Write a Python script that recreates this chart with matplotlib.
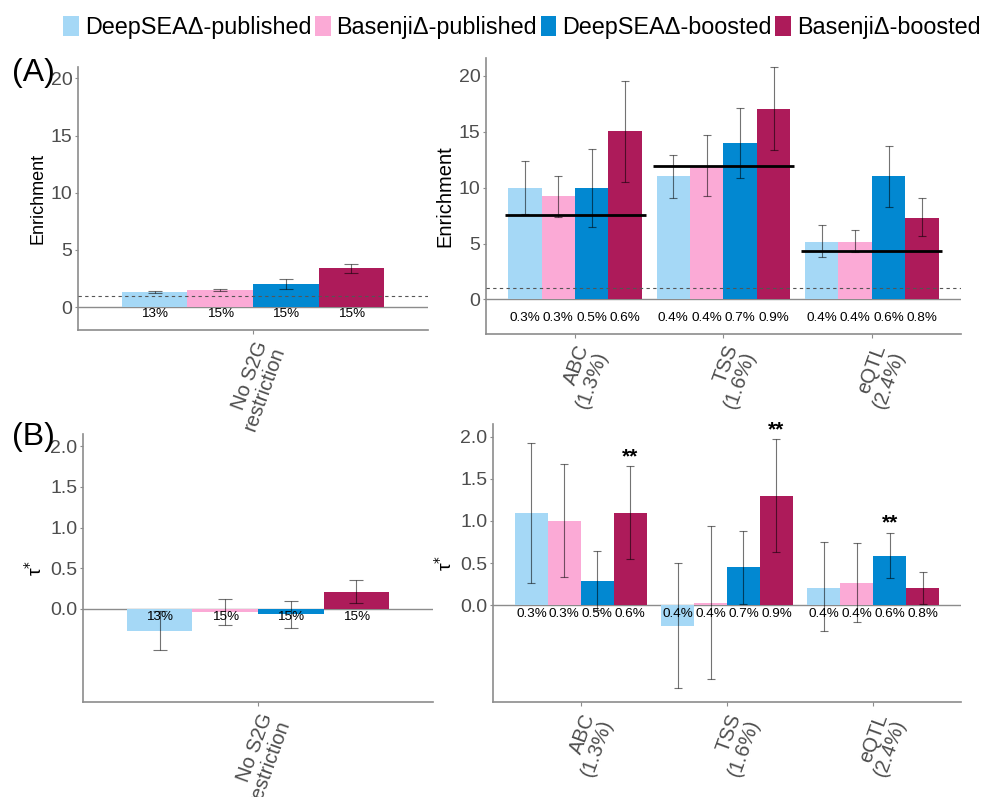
import numpy as np
import matplotlib.pyplot as plt
from matplotlib.patches import Patch

plt.rcParams['font.family'] = ['Liberation Sans', 'DejaVu Sans']

# series / colours
series = ["DeepSEAΔ-published", "BasenjiΔ-published", "DeepSEAΔ-boosted", "BasenjiΔ-boosted"]
colors = ["#A5D8F6", "#FBAAD6", "#0288D1", "#AD1B5A"]

all_cat = ["No S2G\nrestriction"]
s2g_cat = ["ABC\n(1.3%)", "TSS\n(1.6%)", "eQTL\n(2.4%)"]

# (A) enrichment, no S2G restriction
enr_all = [[1.28, 1.52, 2.0, 3.38]]
enr_all_lo = [[1.2, 1.45, 1.62, 3.0]]
enr_all_hi = [[1.38, 1.6, 2.42, 3.8]]
pct_all = [["13%", "15%", "15%", "15%"]]

# (A) enrichment, S2G strategies (rows: ABC, TSS, eQTL)
enr_s2g = [[10.0, 9.22, 10.0, 15.04],
           [11.0, 11.93, 14.0, 17.04],
           [5.16, 5.16, 11.0, 7.28]]
enr_s2g_lo = [[7.67, 7.37, 6.47, 10.5],
              [9.04, 9.28, 10.89, 13.34],
              [3.79, 4.21, 8.26, 5.64]]
enr_s2g_hi = [[12.35, 11.07, 13.5, 19.5],
              [12.95, 14.74, 17.15, 20.77],
              [6.62, 6.18, 13.75, 9.04]]
enr_s2g_ref = [7.52, 11.93, 4.32]
pct_s2g = [["0.3%", "0.3%", "0.5%", "0.6%"],
           ["0.4%", "0.4%", "0.7%", "0.9%"],
           ["0.4%", "0.4%", "0.6%", "0.8%"]]

# (B) tau*
tau_all = [[-0.27, -0.045, -0.065, 0.21]]
tau_all_lo = [[-0.51, -0.2, -0.23, 0.074]]
tau_all_hi = [[-0.03, 0.115, 0.10, 0.35]]

tau_s2g = [[1.10, 1.0, 0.29, 1.10],
           [-0.24, 0.03, 0.45, 1.30],
           [0.21, 0.265, 0.59, 0.205]]
tau_s2g_lo = [[0.27, 0.33, -0.06, 0.55],
              [-0.985, -0.87, 0.02, 0.63],
              [-0.31, -0.2, 0.32, 0.01]]
tau_s2g_hi = [[1.93, 1.67, 0.64, 1.65],
              [0.505, 0.94, 0.88, 1.97],
              [0.75, 0.74, 0.86, 0.40]]
# significant (group, series)
tau_stars = [(0, 3), (1, 3), (2, 2)]

W = 0.225
GRAY = "#8C8C8C"
TXT = "#4D4D4D"


def offsets(k):
    return (k - 1.5) * W


def draw_bars(ax, means, lo, hi, pcts, pct_y, capsize, cats, ylim, yticks, ylab, labsize):
    n = len(means)
    x = np.arange(1, n + 1)
    for k in range(4):
        xs = x + offsets(k)
        m = np.array([means[g][k] for g in range(n)])
        l = np.array([lo[g][k] for g in range(n)])
        h = np.array([hi[g][k] for g in range(n)])
        ax.bar(xs, m, width=W, color=colors[k], zorder=2)
        ax.errorbar(xs, m, yerr=[m - l, h - m], fmt='none', ecolor='black', alpha=0.55,
                    elinewidth=0.8, capsize=capsize, capthick=0.8, zorder=3)
        for g in range(n):
            ax.text(xs[g], pct_y, pcts[g][k], ha='center', va='center', fontsize=9.7,
                    color='black', zorder=5)
    ax.axhline(0, color=GRAY, lw=1, zorder=1.5)
    ax.set_xlim(0.4, n + 0.6)
    ax.set_ylim(*ylim)
    ax.set_yticks(yticks)
    ax.set_xticks(x)
    ax.set_xticklabels(cats, rotation=70, ha='right', va='top', rotation_mode='anchor',
                       fontsize=14.5, color=TXT, linespacing=1.0)
    ax.tick_params(axis='y', labelsize=14, labelcolor=TXT, length=2, color=GRAY, pad=2)
    ax.tick_params(axis='x', length=3, color=GRAY, pad=3)
    ax.set_ylabel(ylab, fontsize=labsize, labelpad=3)
    for s in ['top', 'right']:
        ax.spines[s].set_visible(False)
    for s in ['left', 'bottom']:
        ax.spines[s].set_color(GRAY)
        ax.spines[s].set_linewidth(1.2)
    return x


fig = plt.figure(figsize=(9.92, 7.97), dpi=100)

# panel A
ax1 = fig.add_axes([0.0786, 0.586, 0.3528, 0.330])
draw_bars(ax1, enr_all, enr_all_lo, enr_all_hi, pct_all, -0.6, 4.7, all_cat,
          (-2.0, 21.0), [0, 5, 10, 15, 20], "Enrichment", 13)
ax1.axhline(1, color='#555555', lw=0.8, ls=(0, (3, 3)), zorder=4)

ax2 = fig.add_axes([0.4899, 0.5809, 0.4788, 0.3463])
x2 = draw_bars(ax2, enr_s2g, enr_s2g_lo, enr_s2g_hi, pct_s2g, -1.65, 2.9, s2g_cat,
               (-3.1, 21.6), [0, 5, 10, 15, 20], "Enrichment", 14.5)
ax2.axhline(1, color='#555555', lw=0.8, ls=(0, (3, 3)), zorder=4)
for g in range(len(enr_s2g_ref)):
    ax2.hlines(enr_s2g_ref[g], x2[g] - 0.475, x2[g] + 0.475, color='black', lw=2, zorder=6)

# panel B
ax3 = fig.add_axes([0.0837, 0.1188, 0.3528, 0.3366])
draw_bars(ax3, tau_all, tau_all_lo, tau_all_hi, pct_all, -0.1, 5.0, all_cat,
          (-1.15, 2.15), [0.0, 0.5, 1.0, 1.5, 2.0], r"τ$^{*}$", 14)
ax3.set_yticklabels(["0.0", "0.5", "1.0", "1.5", "2.0"])

ax4 = fig.add_axes([0.497, 0.1188, 0.4718, 0.3492])
x4 = draw_bars(ax4, tau_s2g, tau_s2g_lo, tau_s2g_hi, pct_s2g, -0.1, 2.9, s2g_cat,
               (-1.15, 2.15), [0.0, 0.5, 1.0, 1.5, 2.0], r"τ$^{*}$", 14)
ax4.set_yticklabels(["0.0", "0.5", "1.0", "1.5", "2.0"])
for g, k in tau_stars:
    ax4.text(x4[g] + offsets(k), tau_s2g_hi[g][k], "**", ha='center', va='bottom',
             fontsize=15, fontweight='bold', clip_on=False, zorder=6)

fig.text(0.012, 1 - 73 / 797, "(A)", fontsize=23, va='center', ha='left')
fig.text(0.012, 1 - 437 / 797, "(B)", fontsize=23, va='center', ha='left')

handles = [Patch(facecolor=c, edgecolor='none') for c in colors]
fig.legend(handles, series, loc='center left', bbox_to_anchor=(63 / 992, 1 - 27.5 / 797),
           ncol=4, frameon=False, fontsize=16.8, handlelength=0.68, handleheight=0.9,
           handletextpad=0.25, columnspacing=0.15, borderpad=0, borderaxespad=0)

plt.savefig("out.png", dpi=100)
